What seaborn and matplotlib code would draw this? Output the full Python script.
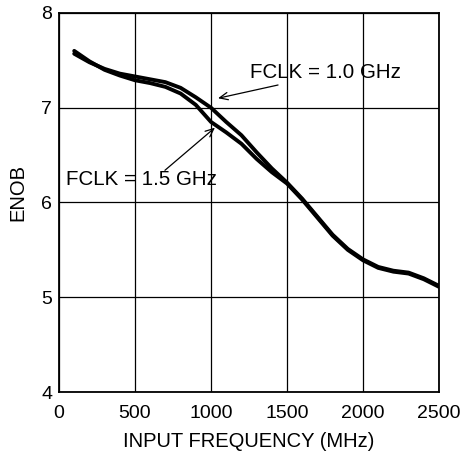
import matplotlib
matplotlib.use("Agg")
import matplotlib.pyplot as plt
import seaborn as sns
import pandas as pd

# Input frequency (MHz)
freq_mhz = [100, 200, 300, 400, 500, 600, 700, 800, 900, 1000, 1100, 1200, 1300,
            1400, 1500, 1600, 1700, 1800, 1900, 2000, 2100, 2200, 2300, 2400, 2500]

# ENOB at FCLK = 1.0 GHz
enob_fclk_1p0 = [7.57, 7.48, 7.41, 7.36, 7.33, 7.30, 7.27, 7.21, 7.11, 7.00, 6.85, 6.71, 6.53,
                 6.36, 6.21, 6.04, 5.85, 5.66, 5.51, 5.40, 5.32, 5.28, 5.26, 5.20, 5.12]

# ENOB at FCLK = 1.5 GHz
enob_fclk_1p5 = [7.60, 7.49, 7.40, 7.34, 7.29, 7.26, 7.22, 7.15, 7.03, 6.85, 6.74, 6.62, 6.46,
                 6.32, 6.20, 6.03, 5.84, 5.65, 5.50, 5.39, 5.31, 5.27, 5.25, 5.19, 5.11]

x_ticks = [0, 500, 1000, 1500, 2000, 2500]
y_ticks = [4, 5, 6, 7, 8]

df = pd.concat([
    pd.DataFrame({"freq": freq_mhz, "enob": enob_fclk_1p0, "clk": "1.0 GHz"}),
    pd.DataFrame({"freq": freq_mhz, "enob": enob_fclk_1p5, "clk": "1.5 GHz"}),
])

sns.set_theme(style="white")
plt.rcParams["font.family"] = ["Liberation Sans", "DejaVu Sans"]

fig = plt.figure(figsize=(4.65, 4.62), dpi=100)
ax = fig.add_axes([0.1269, 0.1515, 0.8172, 0.8204])

sns.lineplot(data=df, x="freq", y="enob", units="clk", estimator=None,
             color="black", linewidth=2.8, ax=ax, legend=False,
             solid_joinstyle="round", solid_capstyle="round", zorder=3)

ax.set_xlim(0, 2500)
ax.set_ylim(4, 8)
ax.set_xticks(x_ticks)
ax.set_yticks(y_ticks)
ax.grid(True, color="black", linewidth=0.9)
for s in ax.spines.values():
    s.set_color("black")
    s.set_linewidth(1.3)
    s.set_visible(True)

ax.tick_params(axis="both", length=0, labelsize=14, colors="black")
ax.tick_params(axis="x", pad=9)
ax.tick_params(axis="y", pad=5)

ax.set_xlabel("INPUT FREQUENCY (MHz)", fontsize=14.5, color="black")
ax.set_ylabel("ENOB", fontsize=14.5, color="black")
ax.xaxis.set_label_coords(0.5, -0.105)
ax.yaxis.set_label_coords(-0.082, 0.526)

arrow = dict(arrowstyle="->,head_length=0.5,head_width=0.22", color="black",
             linewidth=0.9, shrinkA=0, shrinkB=0)

ax.text(1257, 7.37, "FCLK = 1.0 GHz", fontsize=14.8, ha="left", va="center", color="black")
ax.annotate("", xy=(1046, 7.10), xytext=(1441, 7.24), arrowprops=arrow)

ax.text(46, 6.24, "FCLK = 1.5 GHz", fontsize=14.8, ha="left", va="center", color="black")
ax.annotate("", xy=(1026, 6.79), xytext=(697, 6.34), arrowprops=arrow)

fig.savefig("out.png", dpi=100, facecolor="white")
